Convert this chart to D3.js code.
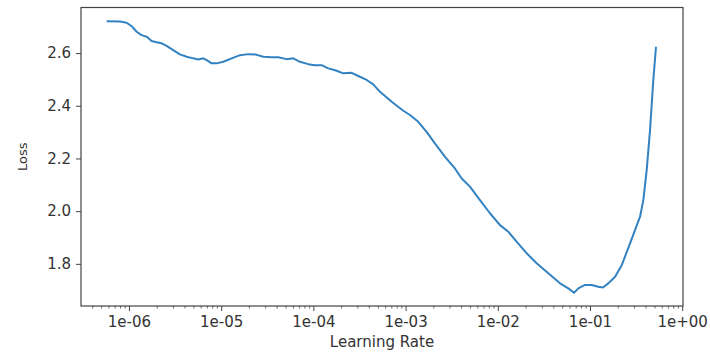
<!DOCTYPE html>
<html>
<head>
<meta charset="utf-8">
<script src="https://cdn.jsdelivr.net/npm/d3@7"></script>
<style>
  body { margin: 0; background: #fff; }
  svg { display: block; }
  text { font-family: "DejaVu Sans", sans-serif; }
</style>
</head>
<body>
<svg id="chart" width="710" height="353"></svg>
<script>
// Learning-rate sweep: loss recorded at each learning rate
const learningRates = [
  5.73e-7, 7.98e-7, 9.44e-7, 1.07e-6, 1.21e-6, 1.37e-6, 1.56e-6, 1.76e-6, 2.00e-6, 2.26e-6,
  2.56e-6, 3.02e-6, 3.57e-6, 4.23e-6, 4.98e-6, 5.64e-6, 6.40e-6, 6.96e-6, 7.89e-6, 8.94e-6,
  1.054e-5, 1.30e-5, 1.60e-5, 1.97e-5, 2.33e-5, 2.86e-5, 3.53e-5, 4.16e-5, 5.13e-5, 6.05e-5,
  7.15e-5, 8.80e-5, 1.041e-4, 1.23e-4, 1.45e-4, 1.79e-4, 2.11e-4, 2.60e-4, 3.07e-4, 3.79e-4,
  4.46e-4, 5.28e-4, 7.07e-4, 9.44e-4, 1.116e-3, 1.373e-3, 1.69e-3, 2.08e-3, 2.68e-3, 3.43e-3,
  4.06e-3, 4.99e-3, 6.41e-3, 8.23e-3, 1.057e-2, 1.30e-2, 1.60e-2, 2.06e-2, 2.64e-2, 3.53e-2,
  4.73e-2, 5.82e-2, 6.71e-2, 7.47e-2, 8.83e-2, 1.043e-1, 1.23e-1, 1.38e-1, 1.58e-1, 1.87e-1,
  2.21e-1, 2.72e-1, 3.49e-1, 3.79e-1, 4.12e-1, 4.48e-1, 4.86e-1, 5.20e-1
];
const losses = [
  2.721, 2.720, 2.715, 2.702, 2.681, 2.668, 2.662, 2.646, 2.641, 2.637,
  2.627, 2.611, 2.595, 2.586, 2.580, 2.576, 2.580, 2.573, 2.561, 2.561,
  2.567, 2.580, 2.592, 2.596, 2.595, 2.586, 2.584, 2.584, 2.577, 2.580,
  2.567, 2.558, 2.554, 2.554, 2.542, 2.533, 2.523, 2.525, 2.513, 2.498,
  2.481, 2.453, 2.415, 2.381, 2.365, 2.339, 2.301, 2.257, 2.206, 2.162,
  2.124, 2.093, 2.042, 1.992, 1.947, 1.922, 1.884, 1.840, 1.802, 1.764,
  1.726, 1.707, 1.690, 1.707, 1.720, 1.720, 1.713, 1.710, 1.726, 1.751,
  1.795, 1.878, 1.979, 2.042, 2.156, 2.308, 2.498, 2.624
];
const xTicks = [1e-6, 1e-5, 1e-4, 1e-3, 1e-2, 1e-1, 1e0];
const xTickLabels = ["1e-06", "1e-05", "1e-04", "1e-03", "1e-02", "1e-01", "1e+00"];
const yTicks = [1.8, 2.0, 2.2, 2.4, 2.6];
const yTickLabels = ["1.8", "2.0", "2.2", "2.4", "2.6"];
const xTitle = "Learning Rate";
const yTitle = "Loss";

const svg = d3.select("#chart");
const plot = { left: 81, right: 683, top: 7.5, bottom: 306 };
const axisColor = "#444";
const textColor = "#333";

const x = d3.scaleLog()
  .domain([Math.pow(10, -6.52), Math.pow(10, 0.0087)])
  .range([plot.left, plot.right]);
const y = d3.scaleLinear()
  .domain([1.64, 2.773])
  .range([plot.bottom, plot.top]);

// Minor ticks at 2..9 within each decade
const minorTicks = [];
for (let e = -7; e <= 0; e++) {
  for (let k = 2; k <= 9; k++) {
    const v = k * Math.pow(10, e);
    if (v >= x.domain()[0] && v <= x.domain()[1]) minorTicks.push(v);
  }
}

// Minor x ticks
svg.append("g")
  .attr("transform", `translate(0,${plot.bottom})`)
  .call(d3.axisBottom(x).tickValues(minorTicks).tickSize(2.5).tickFormat(""))
  .call(g => g.select(".domain").remove())
  .call(g => g.selectAll("line").attr("stroke", axisColor).attr("stroke-width", 0.8));

// Major x ticks
svg.append("g")
  .attr("transform", `translate(0,${plot.bottom})`)
  .call(d3.axisBottom(x).tickValues(xTicks).tickSize(5).tickPadding(5)
    .tickFormat((d, i) => xTickLabels[i]))
  .call(g => g.select(".domain").remove())
  .call(g => g.selectAll("line").attr("stroke", axisColor).attr("stroke-width", 1))
  .call(g => g.selectAll("text").attr("fill", textColor).attr("font-size", 15)
    .attr("font-family", "DejaVu Sans"));

// Y ticks
svg.append("g")
  .attr("transform", `translate(${plot.left},0)`)
  .call(d3.axisLeft(y).tickValues(yTicks).tickSize(5).tickPadding(5)
    .tickFormat((d, i) => yTickLabels[i]))
  .call(g => g.select(".domain").remove())
  .call(g => g.selectAll("line").attr("stroke", axisColor).attr("stroke-width", 1))
  .call(g => g.selectAll("text").attr("fill", textColor).attr("font-size", 15)
    .attr("font-family", "DejaVu Sans"));

// Loss curve
const series = learningRates.map((lr, i) => ({ lr, loss: losses[i] }));
svg.append("path")
  .datum(series)
  .attr("fill", "none")
  .attr("stroke", "#3282c2")
  .attr("stroke-width", 2)
  .attr("stroke-linejoin", "round")
  .attr("d", d3.line().x(d => x(d.lr)).y(d => y(d.loss)));

// Frame
svg.append("rect")
  .attr("x", plot.left).attr("y", plot.top)
  .attr("width", plot.right - plot.left).attr("height", plot.bottom - plot.top)
  .attr("fill", "none").attr("stroke", axisColor).attr("stroke-width", 1.2);

// Axis titles
svg.append("text")
  .attr("x", (plot.left + plot.right) / 2).attr("y", 347)
  .attr("text-anchor", "middle").attr("font-size", 15).attr("fill", textColor)
  .text(xTitle);
svg.append("text")
  .attr("transform", `translate(27,${(plot.top + plot.bottom) / 2}) rotate(-90)`)
  .attr("text-anchor", "middle").attr("font-size", 13).attr("fill", textColor)
  .text(yTitle);
</script>
</body>
</html>
